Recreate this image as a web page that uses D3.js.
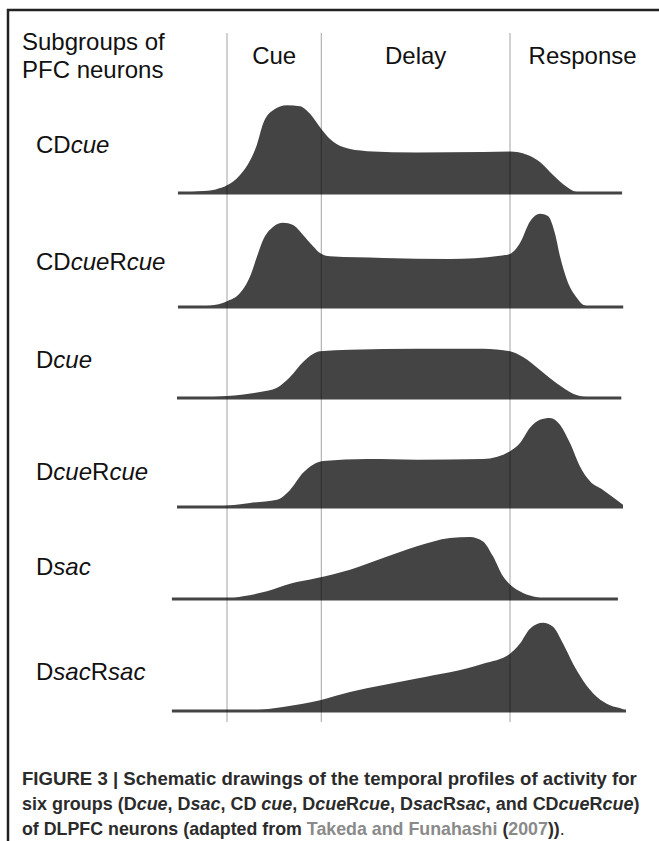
<!DOCTYPE html>
<html>
<head>
<meta charset="utf-8">
<script src="https://cdn.jsdelivr.net/npm/d3@7"></script>
<style>
  body { margin: 0; background: #fff; }
  svg { display: block; }
  .lbl { font-family: "Liberation Sans", Arial, sans-serif; font-size: 24px; fill: #111; }
  .cap { font-family: "Liberation Sans", Arial, sans-serif; font-weight: bold; font-size: 19px; fill: #2b2b2b; }
</style>
</head>
<body>
<div id="chart"></div>
<script>
var svgWidth = 659;
var svgHeight = 841;

// task epochs (ms from cue onset)
var epochs = ["Cue", "Delay", "Response"];
var epochStart = [0, 500, 1500];
var epochEnd = [500, 1500, 2270];

// subgroups, top to bottom
var groups = ["CDcue", "CDcueRcue", "Dcue", "DcueRcue", "Dsac", "DsacRsac"];

// schematic activity [time ms, relative rate]
var cdCue = [[-260,0],[-143,0.02],[-60,0.04],[0,0.085],[69,0.2],[122,0.36],[159,0.54],[191,0.77],[244,0.92],[318,0.975],[387,0.965],[440,0.88],[493,0.73],[546,0.6],[615,0.51],[742,0.465],[1007,0.45],[1357,0.455],[1500,0.46],[1590,0.425],[1659,0.345],[1728,0.2],[1802,0.067],[1855,0.01],[1924,0],[2094,0]];
var cdCueRcue = [[-260,0],[-90,0.015],[0,0.063],[69,0.155],[122,0.34],[159,0.56],[191,0.745],[244,0.89],[297,0.935],[350,0.91],[403,0.8],[456,0.675],[493,0.6],[546,0.563],[827,0.545],[1182,0.533],[1447,0.57],[1500,0.59],[1553,0.71],[1606,0.95],[1659,1.037],[1701,1.01],[1738,0.82],[1765,0.563],[1802,0.3],[1855,0.1],[1887,0.026],[1940,0],[2100,0]];
var dCue = [[-265,0],[-143,0.005],[0,0.022],[175,0.067],[265,0.115],[334,0.233],[403,0.4],[456,0.49],[493,0.52],[652,0.537],[1007,0.548],[1357,0.548],[1500,0.52],[1569,0.455],[1659,0.31],[1749,0.16],[1834,0.048],[1908,0.01],[2090,0]];
var dCueRcue = [[-265,0],[-100,0.005],[0,0.015],[122,0.045],[265,0.08],[334,0.19],[403,0.38],[456,0.47],[509,0.51],[742,0.533],[1007,0.525],[1357,0.533],[1500,0.62],[1553,0.71],[1606,0.88],[1659,0.97],[1712,0.99],[1765,0.915],[1818,0.71],[1871,0.45],[1924,0.285],[1993,0.19],[2099,0.025]];
var dSac = [[-292,0],[0,0.003],[85,0.03],[212,0.085],[334,0.17],[477,0.233],[652,0.325],[827,0.455],[1007,0.585],[1182,0.678],[1288,0.69],[1357,0.64],[1410,0.475],[1463,0.252],[1500,0.16],[1569,0.067],[1643,0.019],[1712,0],[2072,0]];
var dSacRsac = [[-292,0],[122,0.008],[297,0.045],[493,0.12],[652,0.21],[1007,0.36],[1357,0.525],[1500,0.637],[1553,0.75],[1606,0.915],[1675,0.98],[1728,0.935],[1781,0.75],[1834,0.525],[1887,0.34],[1961,0.155],[2030,0.063],[2099,0.019],[2115,0]];

var profiles = [cdCue, cdCueRcue, dCue, dCueRcue, dSac, dSacRsac];

var svg = d3.select("#chart")
  .append("svg")
  .attr("width", svgWidth)
  .attr("height", svgHeight);

// frame
svg.append("path")
  .attr("d", "M8," + svgHeight + "V10H" + svgWidth)
  .attr("fill", "none")
  .attr("stroke", "#222")
  .attr("stroke-width", 2.5);

var x = d3.scaleLinear().domain([0, 1500]).range([227, 510]);
var h = d3.scaleLinear().domain([0, 1]).range([0, 90]);
var rowBase = d3.scaleOrdinal().domain(groups).range([193, 307, 398, 507, 599, 711]);
var rowLabel = d3.scaleOrdinal().domain(groups).range([153, 270, 368, 480, 575, 680]);

// header
var head = svg.append("text").attr("class", "lbl");
head.append("tspan").attr("x", 22).attr("y", 50).text("Subgroups of");
head.append("tspan").attr("x", 22).attr("y", 78).text("PFC neurons");

svg.selectAll(".epoch")
  .data(epochs)
  .enter()
  .append("text")
  .attr("class", "lbl epoch")
  .attr("x", (d, i) => x((epochStart[i] + epochEnd[i]) / 2))
  .attr("y", 64)
  .attr("text-anchor", "middle")
  .text(d => d);

// profiles
var area = d3.area()
  .curve(d3.curveMonotoneX)
  .x(d => x(d[0]));

groups.forEach(function(g, i) {
  var base = rowBase(g);
  var data = profiles[i];
  svg.append("path")
    .datum(data)
    .attr("fill", "#444")
    .attr("d", area.y0(base).y1(d => base - h(d[1])));
  svg.append("line")
    .attr("x1", x(data[0][0]))
    .attr("x2", x(data[data.length - 1][0]))
    .attr("y1", base)
    .attr("y2", base)
    .attr("stroke", "#444")
    .attr("stroke-width", 3);

  // label: capitals upright, lowercase italic
  var t = svg.append("text")
    .attr("class", "lbl")
    .attr("x", 36)
    .attr("y", rowLabel(g));
  g.match(/[A-Z]+|[a-z]+/g).forEach(function(part) {
    t.append("tspan")
      .attr("font-style", /[a-z]/.test(part) ? "italic" : "normal")
      .text(part);
  });
});

// epoch boundaries
svg.selectAll(".bound")
  .data(epochStart)
  .enter()
  .append("line")
  .attr("class", "bound")
  .attr("x1", d => x(d))
  .attr("x2", d => x(d))
  .attr("y1", 33)
  .attr("y2", 722)
  .attr("stroke", "rgba(0,0,0,0.3)")
  .attr("stroke-width", 1.2);

// caption
var capLines = [
  [["FIGURE 3 | Schematic drawings of the temporal profiles of activity for"]],
  [["six groups (D"], ["cue", "i"], [", D"], ["sac", "i"], [", CD "], ["cue", "i"], [", D"], ["cue", "i"], ["R"], ["cue", "i"], [", D"], ["sac", "i"], ["R"], ["sac", "i"], [", and CD"], ["cue", "i"], ["R"], ["cue", "i"], [")"]],
  [["of DLPFC neurons (adapted from "], ["Takeda and Funahashi", "g"], [" ("], ["2007", "g"], ["))"], [".", "n"]]
];
var capWidth = [615, 618, 543];

capLines.forEach(function(line, i) {
  var t = svg.append("text")
    .attr("class", "cap")
    .attr("x", 0)
    .attr("y", 0);
  line.forEach(function(seg) {
    var s = t.append("tspan").text(seg[0]);
    if (seg[1] === "i") s.attr("font-style", "italic");
    if (seg[1] === "g") s.attr("fill", "#8a8a8a");
    if (seg[1] === "n") s.attr("font-weight", "normal");
  });
  // condensed look: squeeze each line to its width in the figure
  var k = capWidth[i] / t.node().getComputedTextLength();
  t.attr("transform", "translate(22," + (785 + i * 25) + ") scale(" + k + ",1)");
});
</script>
</body>
</html>
